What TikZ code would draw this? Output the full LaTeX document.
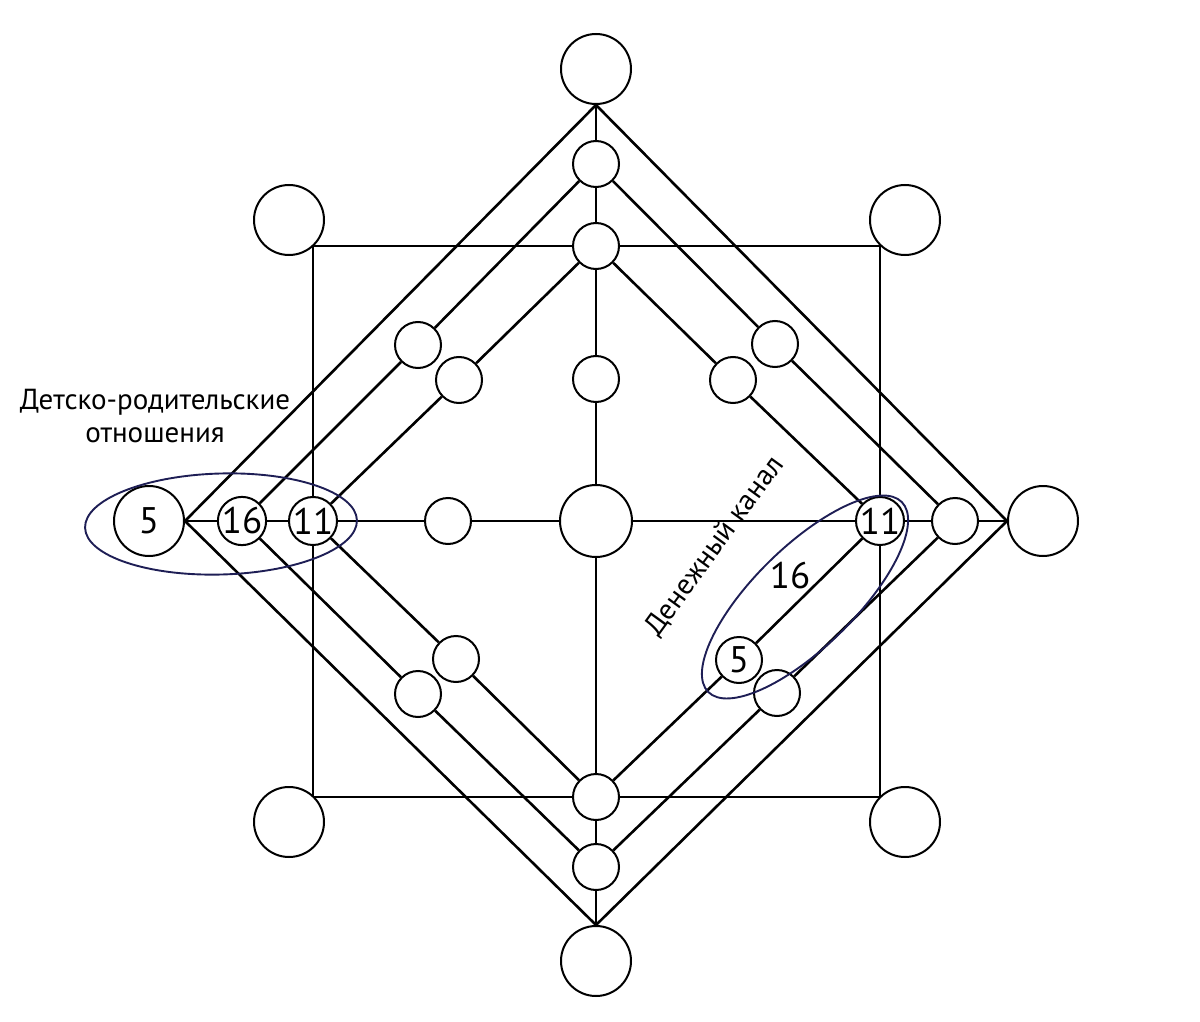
\documentclass[tikz,border=0pt]{standalone}
\usepackage{fontspec}
\setmainfont{PT Sans}
\usetikzlibrary{backgrounds}
\definecolor{navy}{RGB}{30,30,85}
\begin{document}
\begin{tikzpicture}[x=1pt,y=-1pt,
  big/.style={circle,draw,line width=2pt,minimum size=70pt,inner sep=0pt,fill=white,font=\fontsize{37}{37}\selectfont},
  small/.style={circle,draw,line width=2pt,minimum size=46pt,inner sep=0pt,fill=white,font=\fontsize{37}{37}\selectfont},
  edge/.style={line width=2.6pt,line join=round},
  loopline/.style={draw=navy,line width=1.9pt},
  lbl/.style={font=\fontsize{29}{33}\selectfont,align=center,inner sep=0pt}]
\useasboundingbox (0,0) rectangle (1200,1022);

% big circles
\node[big] (top) at (596,69) {};
\node[big] (bot) at (596,961) {};
\node[big] (L) at (149,521) {5};
\node[big] (R) at (1043,521) {};
\node[big,minimum size=72pt] (C) at (596,521) {};
\node[big] (cTL) at (289,220) {};
\node[big] (cTR) at (905,220) {};
\node[big] (cBL) at (289,822) {};
\node[big] (cBR) at (905,822) {};

% small circles
\node[small] (t1) at (596,164) {};
\node[small] (t2) at (596,246) {};
\node[small] (b1) at (596,797) {};
\node[small] (b2) at (596,867) {};
\node[small] (l16) at (242,521) {16};
\node[small] (l11) at (313,521) {11};
\node[small] (r11) at (880,521) {11};
\node[small] (r2) at (955,521) {};
\node[small] (ul2) at (418,345) {};
\node[small] (ul3) at (459,380) {};
\node[small] (ll3) at (456,659) {};
\node[small] (ll2) at (418,694) {};
\node[small] (ur2) at (775,344) {};
\node[small] (ur3) at (733,380) {};
\node[small] (lr3) at (739,660) {5};
\node[small] (lr2) at (777,693) {};
\node[small] (mt) at (596,379) {};
\node[small] (ml) at (448,521) {};

% square corners
\coordinate (sqTL) at (313,246);
\coordinate (sqTR) at (880,246);
\coordinate (sqBR) at (880,797);
\coordinate (sqBL) at (313,797);

\begin{scope}[on background layer]
  % outer diamond
  \draw[edge] (top.south) -- (L.east) -- (bot.north) -- (R.west) -- cycle;
  % second diamond
  \draw[edge] (t1) -- (ul2) -- (l16) -- (ll2) -- (b2) -- (lr2) -- (r2) -- (ur2) -- (t1);
  % third diamond
  \draw[edge] (t2) -- (ul3) -- (l11) -- (ll3) -- (b1) -- (lr3) -- (r11) -- (ur3) -- (t2);
  % axes
  \draw[edge] (top) -- (t1) -- (t2) -- (mt) -- (C) -- (b1) -- (b2) -- (bot);
  \draw[edge] (L) -- (l16) -- (l11) -- (ml) -- (C) -- (r11) -- (r2) -- (R);
  % square
  \draw[edge] (sqTL) -- (t2) -- (sqTR) -- (r11) -- (sqBR) -- (b1) -- (sqBL) -- (l11) -- (sqTL);
\end{scope}

% highlight ellipses
\draw[loopline,rotate around={1.6:(221,524)}] (221,524) ellipse [x radius=136, y radius=50.5];
\draw[loopline,rotate around={44.4:(805,597)}] (805,597) ellipse [x radius=135.6, y radius=50.3];

% labels
\node[lbl] (lab1) at (155,416) {Детско-родительские\\отношения};
\node[lbl,rotate=54] (lab2) at (715,546) {Денежный канал};
\node[font=\fontsize{37}{37}\selectfont,inner sep=0pt] (lab3) at (790,576) {16};
\end{tikzpicture}
\end{document}
